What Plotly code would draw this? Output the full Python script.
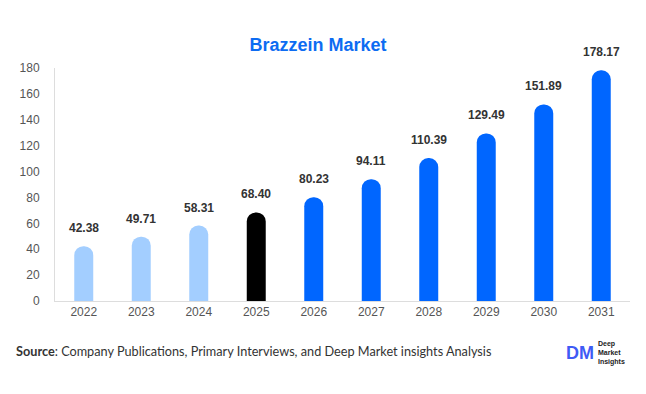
import plotly.graph_objects as go

years = ["2022", "2023", "2024", "2025", "2026", "2027", "2028", "2029", "2030", "2031"]
values = [42.38, 49.71, 58.31, 68.40, 80.23, 94.11, 110.39, 129.49, 151.89, 178.17]
colors = ["#A3CEFF", "#A3CEFF", "#A3CEFF", "#000000", "#0066FF", "#0066FF",
          "#0066FF", "#0066FF", "#0066FF", "#0066FF"]

xs = list(range(len(years)))

fig = go.Figure()
fig.add_trace(go.Bar(
    x=xs, y=values,
    marker=dict(color=colors, cornerradius=10, line=dict(width=0)),
    width=0.33,
    hoverinfo="skip",
))

for i, v in zip(xs, values):
    fig.add_annotation(
        x=i, y=v, text=f"<b>{v:.2f}</b>", showarrow=False,
        yanchor="bottom", yshift=9,
        font=dict(family="Arial, Liberation Sans", size=12, color="#333333"),
    )

fig.add_annotation(
    xref="paper", yref="paper", x=-0.072, y=-0.215, xanchor="left", yanchor="middle",
    text="<b>Source</b>: Company Publications, Primary Interviews, and Deep Market insights Analysis",
    showarrow=False, font=dict(family="Lato, Open Sans", size=12.7, color="#333333"),
)
# logo
fig.add_annotation(
    xref="paper", yref="paper", x=0.886, y=-0.222, xanchor="left", yanchor="middle",
    text="<b>DM</b>", showarrow=False,
    font=dict(family="Arial, Liberation Sans", size=18, color="#3F5BF5"),
)
fig.add_annotation(
    xref="paper", yref="paper", x=0.941, y=-0.222, xanchor="left", yanchor="middle",
    text="<b>Deep<br>Market<br>Insights</b>", showarrow=False, align="left",
    font=dict(family="Arial", size=7, color="#222222"),
)

fig.update_layout(
    width=646, height=394,
    margin=dict(l=42, r=24, t=60, b=101),
    paper_bgcolor="white", plot_bgcolor="white",
    title=dict(text="<b>Brazzein Market</b>", x=0.48, xanchor="center", y=0.906, yanchor="middle",
               font=dict(family="Arial, Liberation Sans", size=18, color="#0D6CF2")),
    showlegend=False,
    xaxis=dict(
        range=[-0.5, 9.5], tickvals=xs, ticktext=years,
        showgrid=False, showline=True, linecolor="#DDDDDD", linewidth=1, zeroline=False,
        ticks="", tickfont=dict(family="Arial, Liberation Sans", size=12, color="#555555"),
        fixedrange=True,
    ),
    yaxis=dict(
        range=[0, 180], dtick=20, showgrid=False, showline=True, linecolor="#DDDDDD", linewidth=1,
        ticks="", zeroline=False, tickfont=dict(family="Arial, Liberation Sans", size=12, color="#555555"),
        ticklabelstandoff=12, fixedrange=True,
    ),
)

fig.write_html("out.html")
